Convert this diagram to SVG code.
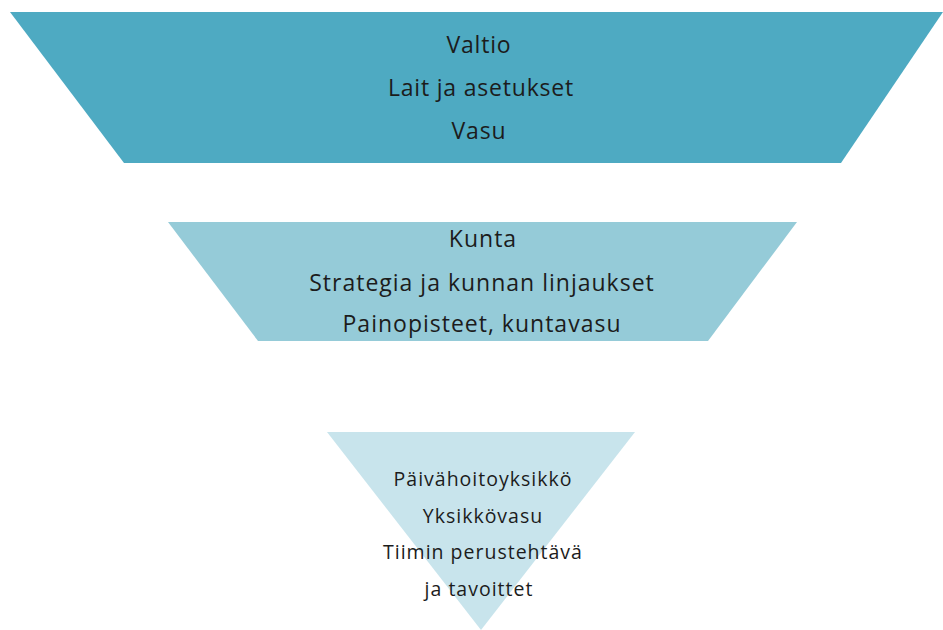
<svg xmlns="http://www.w3.org/2000/svg" width="943" height="630" viewBox="0 0 943 630">
<style>
text{font-family:"Open Sans","Liberation Sans",sans-serif;fill:#1c1c1c;text-anchor:middle}
.t1{font-size:23px;letter-spacing:0.8px}
.t2{font-size:23px;letter-spacing:1px}
.t3{font-size:19.5px;letter-spacing:1px}
</style>
<rect width="943" height="630" fill="#ffffff"/>
<g id="valtio">
<polygon points="10,12 943,12 841,163 124,163" fill="#4eaac2"/>
<text class="t1" x="479" y="53">Valtio</text>
<text class="t1" x="481" y="96">Lait ja asetukset</text>
<text class="t1" x="479" y="139">Vasu</text>
</g>
<g id="kunta">
<polygon points="168,222 797,222 708,341 258,341" fill="#95cbd8"/>
<text class="t2" x="483" y="247">Kunta</text>
<text class="t2" x="482" y="291">Strategia ja kunnan linjaukset</text>
<text class="t2" x="482" y="332">Painopisteet, kuntavasu</text>
</g>
<g id="paivahoitoyksikko">
<polygon points="327,432 635,432 481,630" fill="#c8e4ec"/>
<text class="t3" x="483" y="486">Päivähoitoyksikkö</text>
<text class="t3" x="483" y="523">Yksikkövasu</text>
<text class="t3" x="483" y="559">Tiimin perustehtävä</text>
<text class="t3" x="479" y="596">ja tavoittet</text>
</g>
<g id="connectors"></g>
</svg>
